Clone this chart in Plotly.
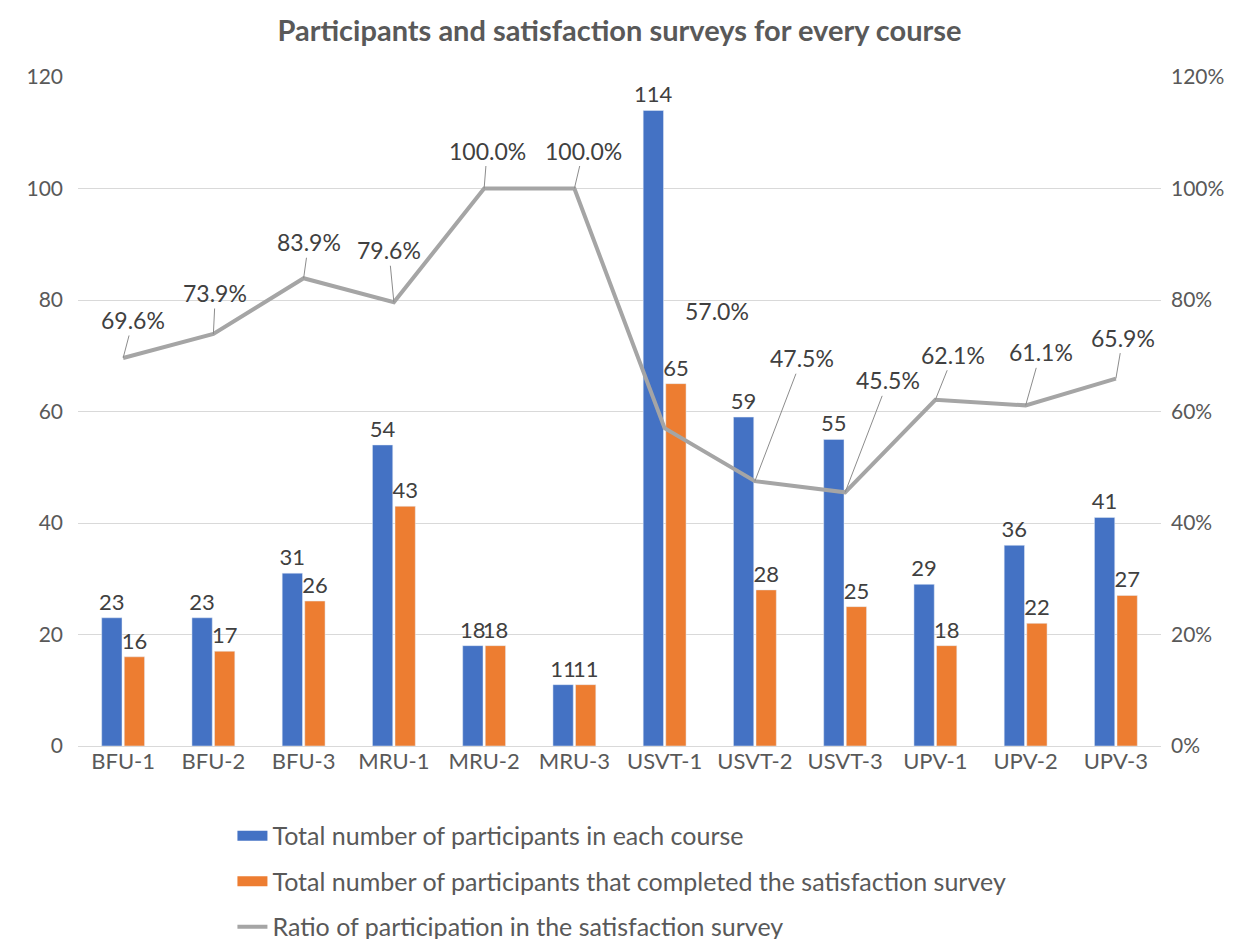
import plotly.graph_objects as go

# ---- data ----
courses = ["BFU-1", "BFU-2", "BFU-3", "MRU-1", "MRU-2", "MRU-3",
           "USVT-1", "USVT-2", "USVT-3", "UPV-1", "UPV-2", "UPV-3"]
participants = [23, 23, 31, 54, 18, 11, 114, 59, 55, 29, 36, 41]
completed = [16, 17, 26, 43, 18, 11, 65, 28, 25, 18, 22, 27]
ratio = [0.696, 0.739, 0.839, 0.796, 1.000, 1.000,
         0.570, 0.475, 0.455, 0.621, 0.611, 0.659]

left_ticks = [0, 20, 40, 60, 80, 100, 120]
right_ticks = [0, 0.2, 0.4, 0.6, 0.8, 1.0, 1.2]

names = ["Total number of participants in each course",
         "Total number of participants that completed the satisfaction survey",
         "Ratio of participation in the satisfaction survey"]

# ---- styling (label placement offsets in pixels, leader line visibility) ----
label_offsets = [(10, -38), (2, -41), (5, -36), (-5, -52), (3, -38), (9, -38),
                 (52, -117), (47, -123), (43, -112), (18, -45), (15, -53), (7, -41)]
leader_visible = [True, True, True, True, True, True,
                  False, True, True, True, True, True]

FONT = "Lato, 'Liberation Sans', sans-serif"
BLUE = "#4472C4"
ORANGE = "#ED7D31"
GREY = "#A5A5A5"
TXT = "#595959"
LBL = "#404040"

fig = go.Figure()
fig.add_trace(go.Bar(
    x=courses, y=participants, name=names[0], showlegend=False,
    marker_color=BLUE, text=participants, textposition="outside",
    textfont=dict(size=22, color=LBL, family=FONT), constraintext="none",
    cliponaxis=False))
fig.add_trace(go.Bar(
    x=courses, y=completed, name=names[1], showlegend=False,
    marker_color=ORANGE, text=completed, textposition="outside",
    textfont=dict(size=22, color=LBL, family=FONT), constraintext="none",
    cliponaxis=False))
fig.add_trace(go.Scatter(
    x=courses, y=ratio, name=names[2], showlegend=False,
    mode="lines", line=dict(color=GREY, width=4), yaxis="y2"))

# legend entries (wide swatches like the original)
for i, (nm, col, w) in enumerate(zip(names, [BLUE, ORANGE, GREY], [14, 14, 4])):
    fig.add_trace(go.Scatter(x=[None], y=[None], mode="lines", name=nm,
                             line=dict(color=col, width=w), legendgroup=f"g{i}",
                             hoverinfo="skip"))

annotations = []
for c, r, (dx, dy), vis in zip(courses, ratio, label_offsets, leader_visible):
    annotations.append(dict(
        x=c, y=r, xref="x", yref="y2", text=f"{r*100:.1f}%",
        showarrow=True, arrowhead=0, arrowwidth=1, standoff=0,
        arrowcolor="#8C8C8C" if vis else "rgba(0,0,0,0)",
        ax=dx, ay=dy, font=dict(size=23, color=LBL, family=FONT)))

fig.update_layout(
    width=1244, height=939,
    paper_bgcolor="white", plot_bgcolor="white",
    margin=dict(l=70, r=91, t=69, b=201, autoexpand=False),
    font=dict(family=FONT, color=TXT, size=21),
    title=dict(text="<b>Participants and satisfaction surveys for every course</b>",
               x=0.5, xref="paper", xanchor="center", y=0.976, yanchor="middle",
               font=dict(size=29, color=TXT, family=FONT)),
    barmode="group", bargap=0.5, bargroupgap=0.1,
    xaxis=dict(showgrid=False, showline=False, ticks="", automargin=False,
               tickfont=dict(size=22, color=TXT)),
    yaxis=dict(range=[0, 120], tickvals=left_ticks, showgrid=True,
               gridcolor="#D9D9D9", gridwidth=1, zeroline=True,
               zerolinecolor="#D9D9D9", zerolinewidth=1, ticks="",
               automargin=False, ticklabelstandoff=14,
               tickfont=dict(size=21, color=TXT)),
    yaxis2=dict(range=[0, 1.2], tickvals=right_ticks, tickformat=".0%",
                overlaying="y", side="right", showgrid=False, zeroline=False,
                ticks="", automargin=False, ticklabelstandoff=9,
                tickfont=dict(size=21, color=TXT)),
    legend=dict(orientation="v", x=0.1426, xanchor="left", y=-0.100, yanchor="top",
                font=dict(size=25, color=TXT), tracegroupgap=10,
                bgcolor="rgba(0,0,0,0)"),
    annotations=annotations,
)

fig.write_html("out.html")
